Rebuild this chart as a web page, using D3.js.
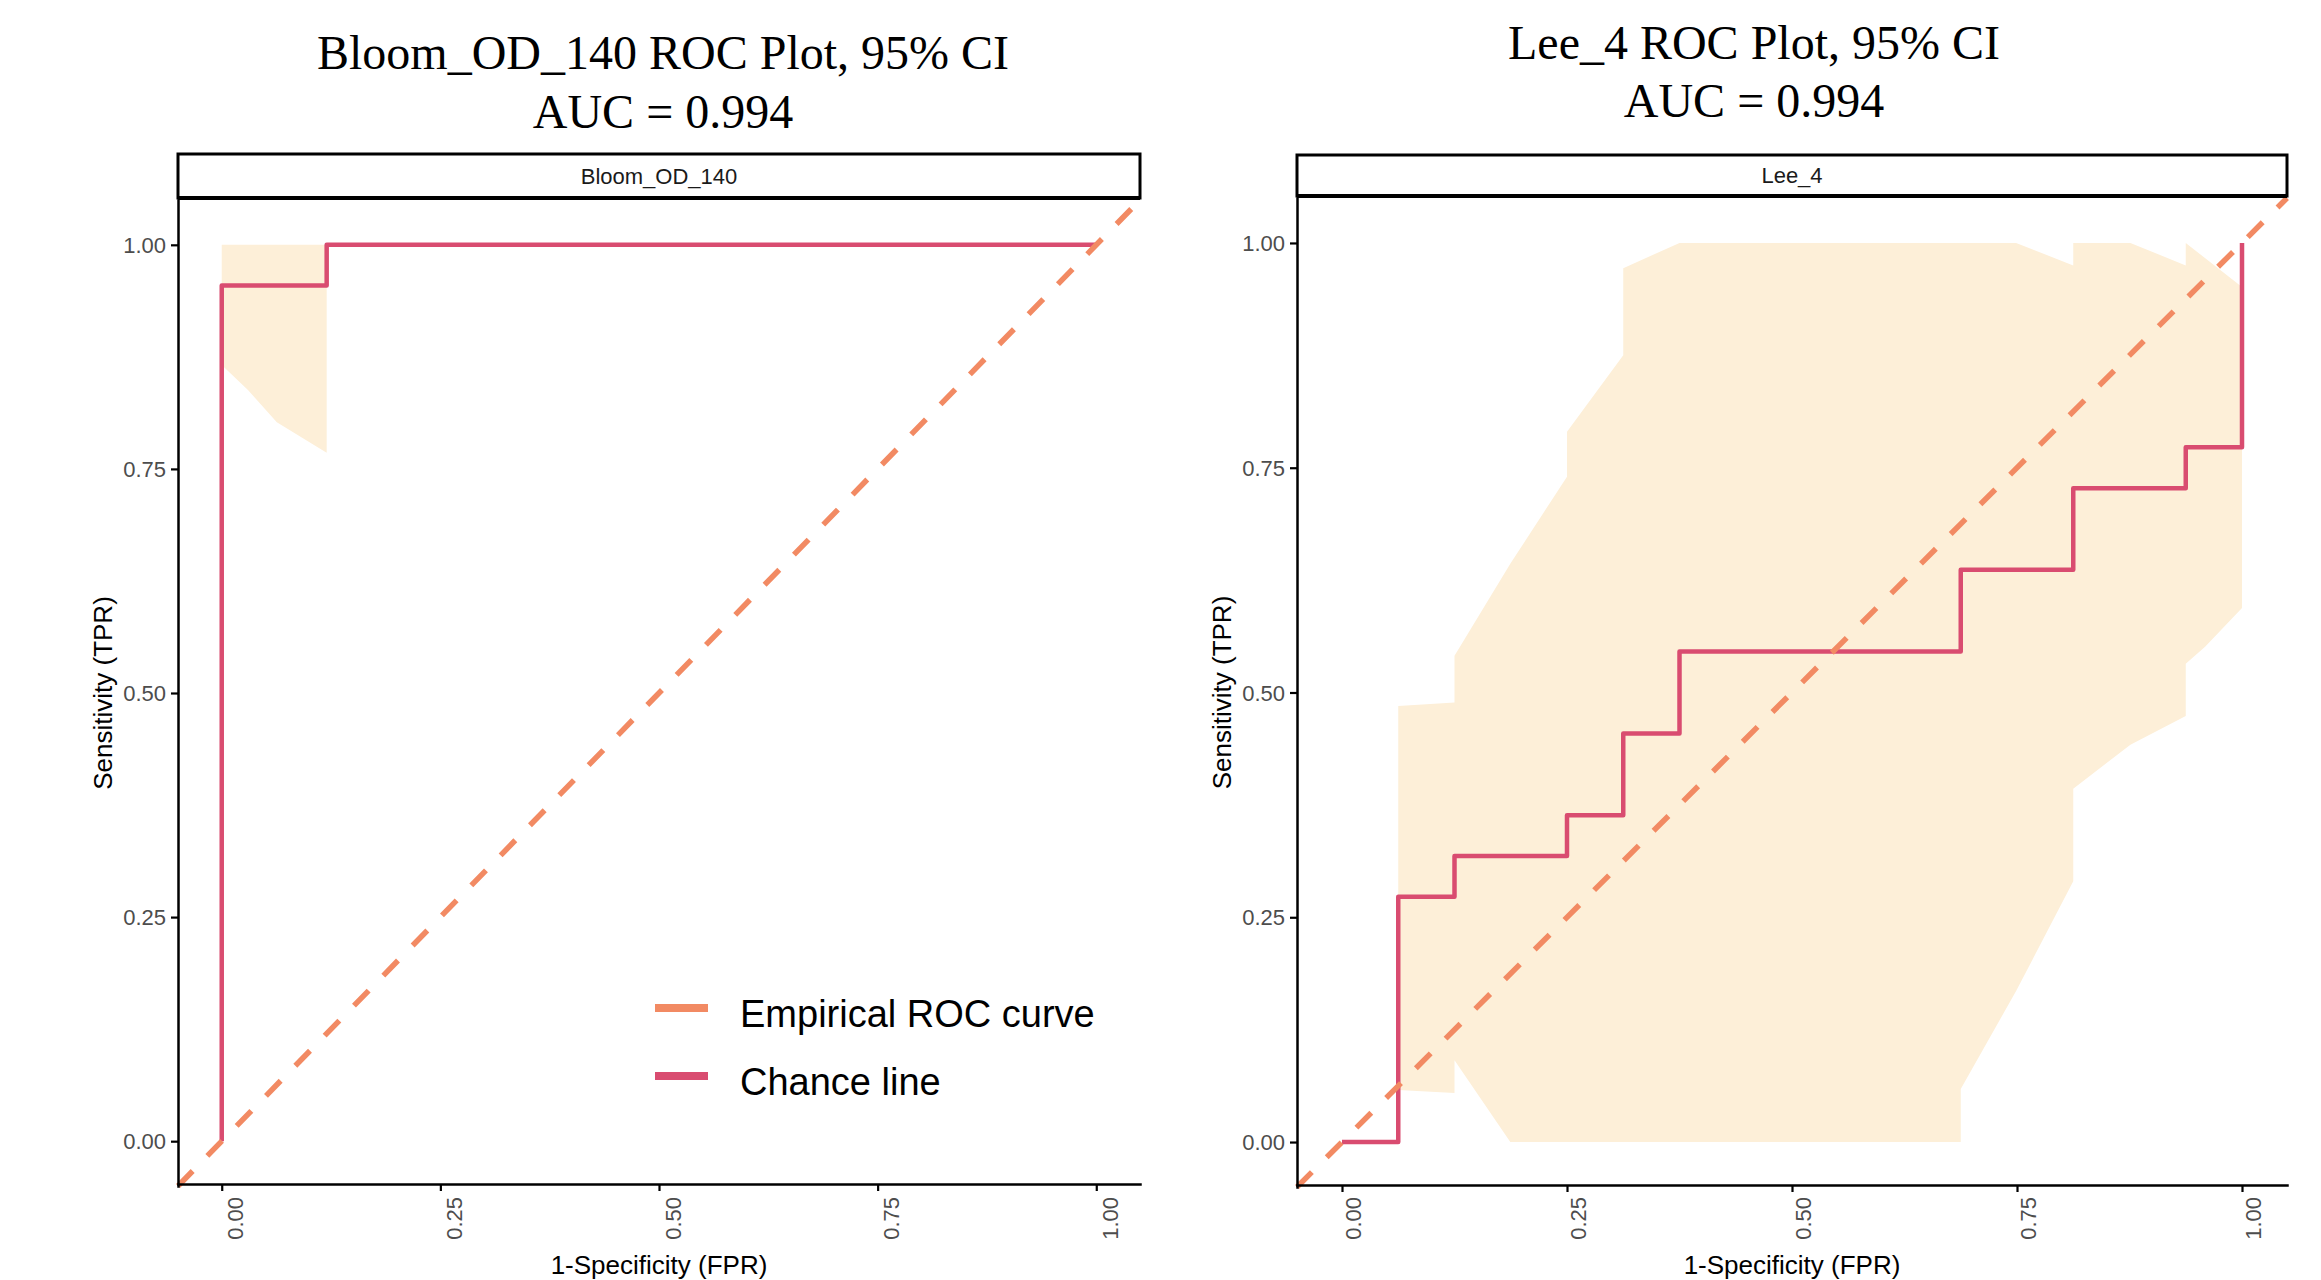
<!DOCTYPE html>
<html>
<head>
<meta charset="utf-8">
<script src="https://cdn.jsdelivr.net/npm/d3@7"></script>
<style>
  html, body { margin: 0; padding: 0; background: #ffffff; }
  svg { display: block; }
</style>
</head>
<body>
<script>
// ---------------- DATA ----------------
const tickValues = [0, 0.25, 0.5, 0.75, 1.0];
const tickLabels = ["0.00", "0.25", "0.50", "0.75", "1.00"];

const panelTitles = ["Bloom_OD_140 ROC Plot, 95% CI", "Lee_4 ROC Plot, 95% CI"];
const panelAUC = ["AUC = 0.994", "AUC = 0.994"];
const stripLabels = ["Bloom_OD_140", "Lee_4"];

const xTitle = "1-Specificity (FPR)";
const yTitle = "Sensitivity (TPR)";
const legendLabels = ["Empirical ROC curve", "Chance line"];

// Bloom_OD_140 empirical ROC (step points)
const bloomFPR = [0, 0, 0.12, 1.0];
const bloomTPR = [0, 0.9545, 1.0, 1.0];
// Bloom_OD_140 CI band
const bloomUpperFPR = [0, 0.12];
const bloomUpperTPR = [1.0, 1.0];
const bloomLowerFPR = [0, 0.003, 0.03, 0.063, 0.12];
const bloomLowerTPR = [0.866, 0.863, 0.838, 0.802, 0.768];

// Lee_4 empirical ROC (step points)
const leeFPR = [0, 0.0625, 0.125, 0.25, 0.3125, 0.375, 0.6875, 0.8125, 0.9375, 1.0];
const leeTPR = [0, 0.2727, 0.3182, 0.3636, 0.4545, 0.5455, 0.6364, 0.7273, 0.7727, 1.0];
// Lee_4 CI band
const leeUpperFPR = [0.0625, 0.125, 0.125, 0.1875, 0.25, 0.25, 0.3125, 0.3125, 0.375, 0.749, 0.8125, 0.8125, 0.876, 0.9375, 0.9375, 1.0, 1.0];
const leeUpperTPR = [0.485, 0.489, 0.541, 0.644, 0.740, 0.790, 0.875, 0.972, 1.0, 1.0, 0.975, 1.0, 1.0, 0.975, 1.0, 0.951, 0.594];
const leeLowerFPR = [0.0625, 0.125, 0.125, 0.187, 0.6875, 0.6875, 0.749, 0.8125, 0.8125, 0.876, 0.9375, 0.9375, 0.959, 1.0];
const leeLowerTPR = [0.058, 0.0545, 0.091, 0.0, 0.0, 0.059, 0.168, 0.290, 0.393, 0.442, 0.474, 0.532, 0.551, 0.594];

// ---------------- STYLE ----------------
const colROC = "#D94C70";
const colChance = "#F28A63";
const colBand = "#FDEFD8";
const sans = "'Liberation Sans', Arial, sans-serif";
const serif = "'Liberation Serif', 'Times New Roman', serif";

const W = 2321, H = 1280;
const svg = d3.select("body").append("svg").attr("width", W).attr("height", H);
svg.append("rect").attr("width", W).attr("height", H).attr("fill", "#fff");

const panels = [
  { idx: 0, fpr: bloomFPR, tpr: bloomTPR,
    up: [bloomUpperFPR, bloomUpperTPR], lo: [bloomLowerFPR, bloomLowerTPR],
    x0: 178, x1: 1140, yTop: 200, yBot: 1186,
    stripTop: 154, stripBot: 198, stripRight: 1140,
    titleX: 663, titleY1: 69, titleY2: 128,
    xLabOff: 21, xLabTop: 13, legend: true },
  { idx: 1, fpr: leeFPR, tpr: leeTPR,
    up: [leeUpperFPR, leeUpperTPR], lo: [leeLowerFPR, leeLowerTPR],
    x0: 1297, x1: 2287, yTop: 198, yBot: 1187,
    stripTop: 155, stripBot: 196, stripRight: 2287,
    titleX: 1754, titleY1: 59, titleY2: 117,
    xLabOff: 18, xLabTop: 12, legend: false }
];

panels.forEach(p => {
  const x = d3.scaleLinear().domain([-0.05, 1.05]).range([p.x0, p.x1]);
  const y = d3.scaleLinear().domain([-0.05, 1.05]).range([p.yBot, p.yTop]);
  const g = svg.append("g");

  // Titles
  g.append("text").attr("x", p.titleX).attr("y", p.titleY1)
    .attr("text-anchor", "middle").attr("font-family", serif).attr("font-size", 48)
    .attr("fill", "#000").text(panelTitles[p.idx]);
  g.append("text").attr("x", p.titleX).attr("y", p.titleY2)
    .attr("text-anchor", "middle").attr("font-family", serif).attr("font-size", 48)
    .attr("fill", "#000").text(panelAUC[p.idx]);

  // CI band polygon
  const upPts = p.up[0].map((v, i) => [v, p.up[1][i]]);
  const loPts = p.lo[0].map((v, i) => [v, p.lo[1][i]]).reverse();
  const poly = upPts.concat(loPts);
  g.append("path")
    .attr("d", d3.line().x(d => x(d[0])).y(d => y(d[1]))(poly) + "Z")
    .attr("fill", colBand).attr("stroke", "none");

  // ROC step curve
  const rocPts = p.fpr.map((v, i) => [v, p.tpr[i]]);
  g.append("path")
    .attr("d", d3.line().curve(d3.curveStepAfter).x(d => x(d[0])).y(d => y(d[1]))(rocPts))
    .attr("fill", "none").attr("stroke", colROC).attr("stroke-width", 4.5)
    .attr("stroke-linejoin", "round");

  // Chance line (diagonal, dashed)
  const diag = [[-0.05, -0.05], [1.05, 1.05]];
  g.append("path")
    .attr("d", d3.line().x(d => x(d[0])).y(d => y(d[1]))(diag))
    .attr("fill", "none").attr("stroke", colChance).attr("stroke-width", 5.5)
    .attr("stroke-dasharray", "21,21");

  // Y axis
  const yAxis = g.append("g").attr("transform", `translate(${p.x0},0)`)
    .call(d3.axisLeft(y).tickValues(tickValues).tickFormat((d, i) => tickLabels[i])
      .tickSize(7).tickSizeOuter(0));
  yAxis.select(".domain").attr("stroke", "#000").attr("stroke-width", 2.5);
  yAxis.selectAll(".tick line").attr("stroke", "#000").attr("stroke-width", 2.2);
  yAxis.selectAll(".tick text").attr("x", -12).attr("dy", "0.35em")
    .attr("font-family", sans).attr("font-size", 22).attr("fill", "#4D4D4D");

  // X axis
  const xAxis = g.append("g").attr("transform", `translate(0,${p.yBot - 2})`)
    .call(d3.axisBottom(x).tickValues(tickValues).tickFormat((d, i) => tickLabels[i])
      .tickSize(7).tickSizeOuter(0));
  xAxis.select(".domain").attr("stroke", "#000").attr("stroke-width", 2.5);
  xAxis.selectAll(".tick line").attr("stroke", "#000").attr("stroke-width", 2.2);
  xAxis.selectAll(".tick text")
    .attr("x", 0).attr("y", 0).attr("dy", 0)
    .attr("text-anchor", "end")
    .attr("transform", `translate(${p.xLabOff},${p.xLabTop}) rotate(-90)`)
    .attr("font-family", sans).attr("font-size", 22).attr("fill", "#4D4D4D");
  svg.selectAll(".domain").attr("stroke-linecap", "square");

  // Strip
  g.append("rect").attr("x", p.x0).attr("y", p.stripTop)
    .attr("width", p.stripRight - p.x0).attr("height", p.stripBot - p.stripTop)
    .attr("fill", "#fff").attr("stroke", "#000").attr("stroke-width", 3);
  g.append("line").attr("x1", p.x0).attr("x2", p.stripRight)
    .attr("y1", p.stripBot).attr("y2", p.stripBot)
    .attr("stroke", "#000").attr("stroke-width", 4);
  g.append("text").attr("x", (p.x0 + p.stripRight) / 2).attr("y", (p.stripTop + p.stripBot) / 2)
    .attr("dy", "0.36em").attr("text-anchor", "middle")
    .attr("font-family", sans).attr("font-size", 22).attr("fill", "#1A1A1A")
    .text(stripLabels[p.idx]);

  // Axis titles
  g.append("text").attr("x", (p.x0 + p.x1) / 2).attr("y", 1274)
    .attr("text-anchor", "middle").attr("font-family", sans).attr("font-size", 26)
    .attr("fill", "#000").text(xTitle);
  g.append("text")
    .attr("transform", `translate(${p.x0 - 66},${(p.yTop + p.yBot) / 2}) rotate(-90)`)
    .attr("text-anchor", "middle").attr("font-family", sans).attr("font-size", 26)
    .attr("fill", "#000").text(yTitle);

  // Legend (left panel only)
  if (p.legend) {
    const lg = g.append("g");
    const items = [
      { label: legendLabels[0], color: colChance, y: 1008 },
      { label: legendLabels[1], color: colROC, y: 1076 }
    ];
    items.forEach(it => {
      lg.append("line").attr("x1", 655).attr("x2", 708).attr("y1", it.y).attr("y2", it.y)
        .attr("stroke", it.color).attr("stroke-width", 8);
      lg.append("text").attr("x", 740).attr("y", it.y + 19)
        .attr("font-family", sans).attr("font-size", 38).attr("fill", "#000")
        .text(it.label);
    });
  }
});
</script>
</body>
</html>
